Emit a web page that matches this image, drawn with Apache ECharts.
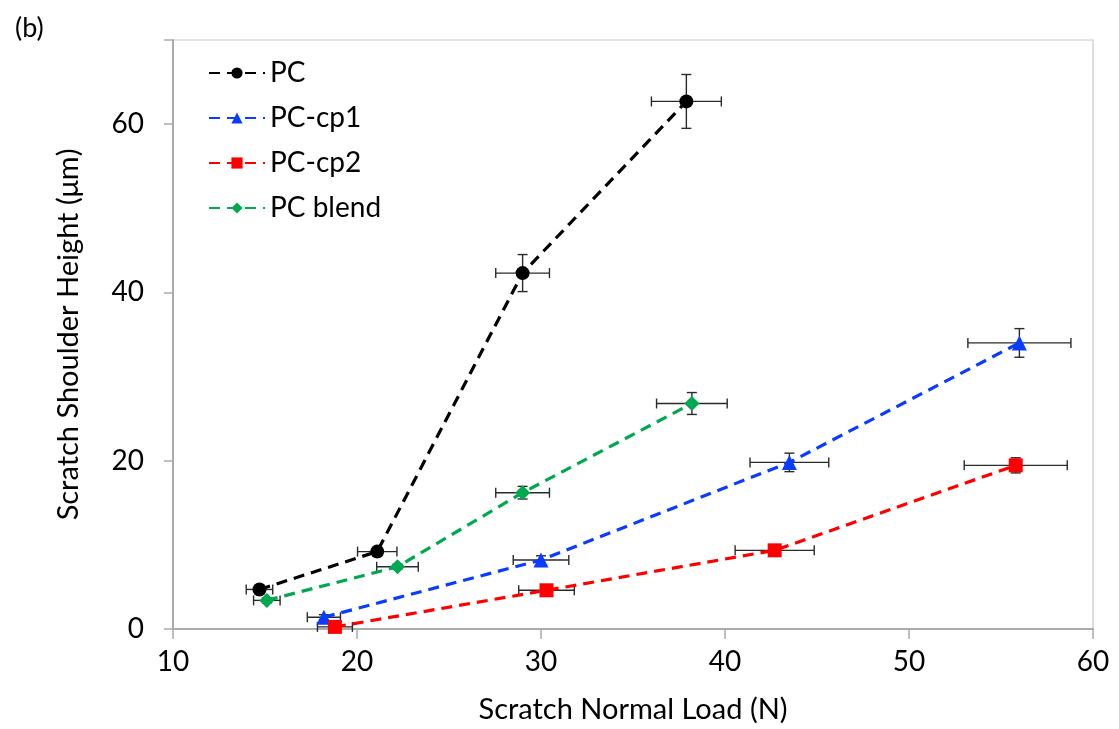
<!DOCTYPE html>
<html>
<head>
<meta charset="utf-8">
<script src="https://cdn.jsdelivr.net/npm/echarts@6/dist/echarts.min.js"></script>
<style>
html,body{margin:0;padding:0;background:#fff;}
#chart{width:1119px;height:729px;}
</style>
</head>
<body>
<div id="chart"></div>
<script>
// Data: [load (N), shoulder height (µm)] and their error bars
const seriesNames = ['PC', 'PC-cp1', 'PC-cp2', 'PC blend'];

const pcX = [14.7, 21.1, 29.0, 37.9];
const pcY = [4.7, 9.2, 42.3, 62.7];
const pcXErr = [0.72, 1.07, 1.46, 1.9];
const pcYErr = [0.4, 0.5, 2.2, 3.2];

const cp1X = [18.2, 30.0, 43.5, 56.0];
const cp1Y = [1.4, 8.2, 19.8, 34.0];
const cp1XErr = [0.9, 1.51, 2.14, 2.8];
const cp1YErr = [0.3, 0.5, 1.1, 1.7];

const cp2X = [18.8, 30.3, 42.7, 55.8];
const cp2Y = [0.25, 4.6, 9.35, 19.45];
const cp2XErr = [0.95, 1.51, 2.15, 2.8];
const cp2YErr = [0.2, 0.4, 0.4, 0.9];

const blendX = [15.1, 22.2, 29.0, 38.2];
const blendY = [3.4, 7.4, 16.2, 26.8];
const blendXErr = [0.72, 1.13, 1.46, 1.92];
const blendYErr = [0.3, 0.3, 0.75, 1.3];

const xTicks = [10, 20, 30, 40, 50, 60];
const yTicks = [0, 20, 40, 60];

const FONT = 'Lato, "Open Sans", sans-serif';

const groups = [
  {name: seriesNames[0], x: pcX, y: pcY, xe: pcXErr, ye: pcYErr, color: '#000000', symbol: 'circle', size: 14},
  {name: seriesNames[1], x: cp1X, y: cp1Y, xe: cp1XErr, ye: cp1YErr, color: '#0a3cff', symbol: 'triangle', size: 15},
  {name: seriesNames[2], x: cp2X, y: cp2Y, xe: cp2XErr, ye: cp2YErr, color: '#ff0000', symbol: 'rect', size: 14},
  {name: seriesNames[3], x: blendX, y: blendY, xe: blendXErr, ye: blendYErr, color: '#00a84f', symbol: 'diamond', size: 15}
];

const series = [];
groups.forEach(g => {
  series.push({
    name: g.name + ' err',
    type: 'custom',
    silent: true,
    z: 3,
    data: g.x.map((v, i) => [v, g.y[i], g.xe[i], g.ye[i]]),
    renderItem: function (params, api) {
      const x = api.value(0), y = api.value(1), dx = api.value(2), dy = api.value(3);
      const c = api.coord([x, y]);
      const l = api.coord([x - dx, y]);
      const r = api.coord([x + dx, y]);
      const t = api.coord([x, y + dy]);
      const b = api.coord([x, y - dy]);
      const cap = 5;
      const st = {stroke: '#2a2a2a', lineWidth: 1.4};
      return {
        type: 'group',
        children: [
          {type: 'line', shape: {x1: l[0], y1: c[1], x2: r[0], y2: c[1]}, style: st},
          {type: 'line', shape: {x1: l[0], y1: c[1] - cap, x2: l[0], y2: c[1] + cap}, style: st},
          {type: 'line', shape: {x1: r[0], y1: c[1] - cap, x2: r[0], y2: c[1] + cap}, style: st},
          {type: 'line', shape: {x1: c[0], y1: t[1], x2: c[0], y2: b[1]}, style: st},
          {type: 'line', shape: {x1: c[0] - cap, y1: t[1], x2: c[0] + cap, y2: t[1]}, style: st},
          {type: 'line', shape: {x1: c[0] - cap, y1: b[1], x2: c[0] + cap, y2: b[1]}, style: st}
        ]
      };
    }
  });
  series.push({
    name: g.name,
    type: 'line',
    z: 4,
    data: g.x.map((v, i) => [v, g.y[i]]),
    symbol: g.symbol,
    symbolSize: g.size,
    showSymbol: true,
    color: g.color,
    itemStyle: {color: g.color},
    lineStyle: {color: g.color, width: 3.2, type: [11, 7]},
    emphasis: {disabled: true}
  });
});

const chart = echarts.init(document.getElementById('chart'), null, {renderer: 'canvas'});
chart.setOption({
  animation: false,
  backgroundColor: '#ffffff',
  title: {
    text: '(b)', left: 10, top: 10,
    textStyle: {fontFamily: FONT, fontSize: 27, fontWeight: 'normal', color: '#000'}
  },
  grid: {left: 173, right: 26, top: 40, bottom: 99, show: true, borderColor: '#c8c8c8', borderWidth: 1.2},
  legend: {
    data: seriesNames,
    orient: 'vertical',
    left: 203, top: 54,
    itemWidth: 56, itemHeight: 14, itemGap: 17,
    textStyle: {fontFamily: FONT, fontSize: 28, color: '#000'},
    inactiveColor: '#ccc'
  },
  xAxis: {
    type: 'value', min: xTicks[0], max: xTicks[xTicks.length - 1], interval: 10,
    name: 'Scratch Normal Load (N)', nameLocation: 'middle', nameGap: 66,
    nameTextStyle: {fontFamily: FONT, fontSize: 29, color: '#000'},
    axisLine: {show: true, lineStyle: {color: '#aaaaaa', width: 2}},
    axisTick: {show: true, length: 10, lineStyle: {color: '#aaaaaa', width: 1.5}},
    axisLabel: {fontFamily: FONT, fontSize: 28, color: '#000', margin: 19},
    splitLine: {show: false}
  },
  yAxis: {
    type: 'value', min: 0, max: 70, interval: 20,
    name: 'Scratch Shoulder Height (μm)', nameLocation: 'middle', nameGap: 90, nameRotate: 90,
    nameTextStyle: {fontFamily: FONT, fontSize: 29, color: '#000'},
    axisLine: {show: true, lineStyle: {color: '#aaaaaa', width: 2}},
    axisTick: {show: true, length: 9, lineStyle: {color: '#aaaaaa', width: 1.5}},
    axisLabel: {fontFamily: FONT, fontSize: 28, color: '#000', margin: 29,
      formatter: v => (yTicks.indexOf(v) >= 0 ? String(v) : '')},
    splitLine: {show: false}
  },
  series: series
});
</script>
</body>
</html>
